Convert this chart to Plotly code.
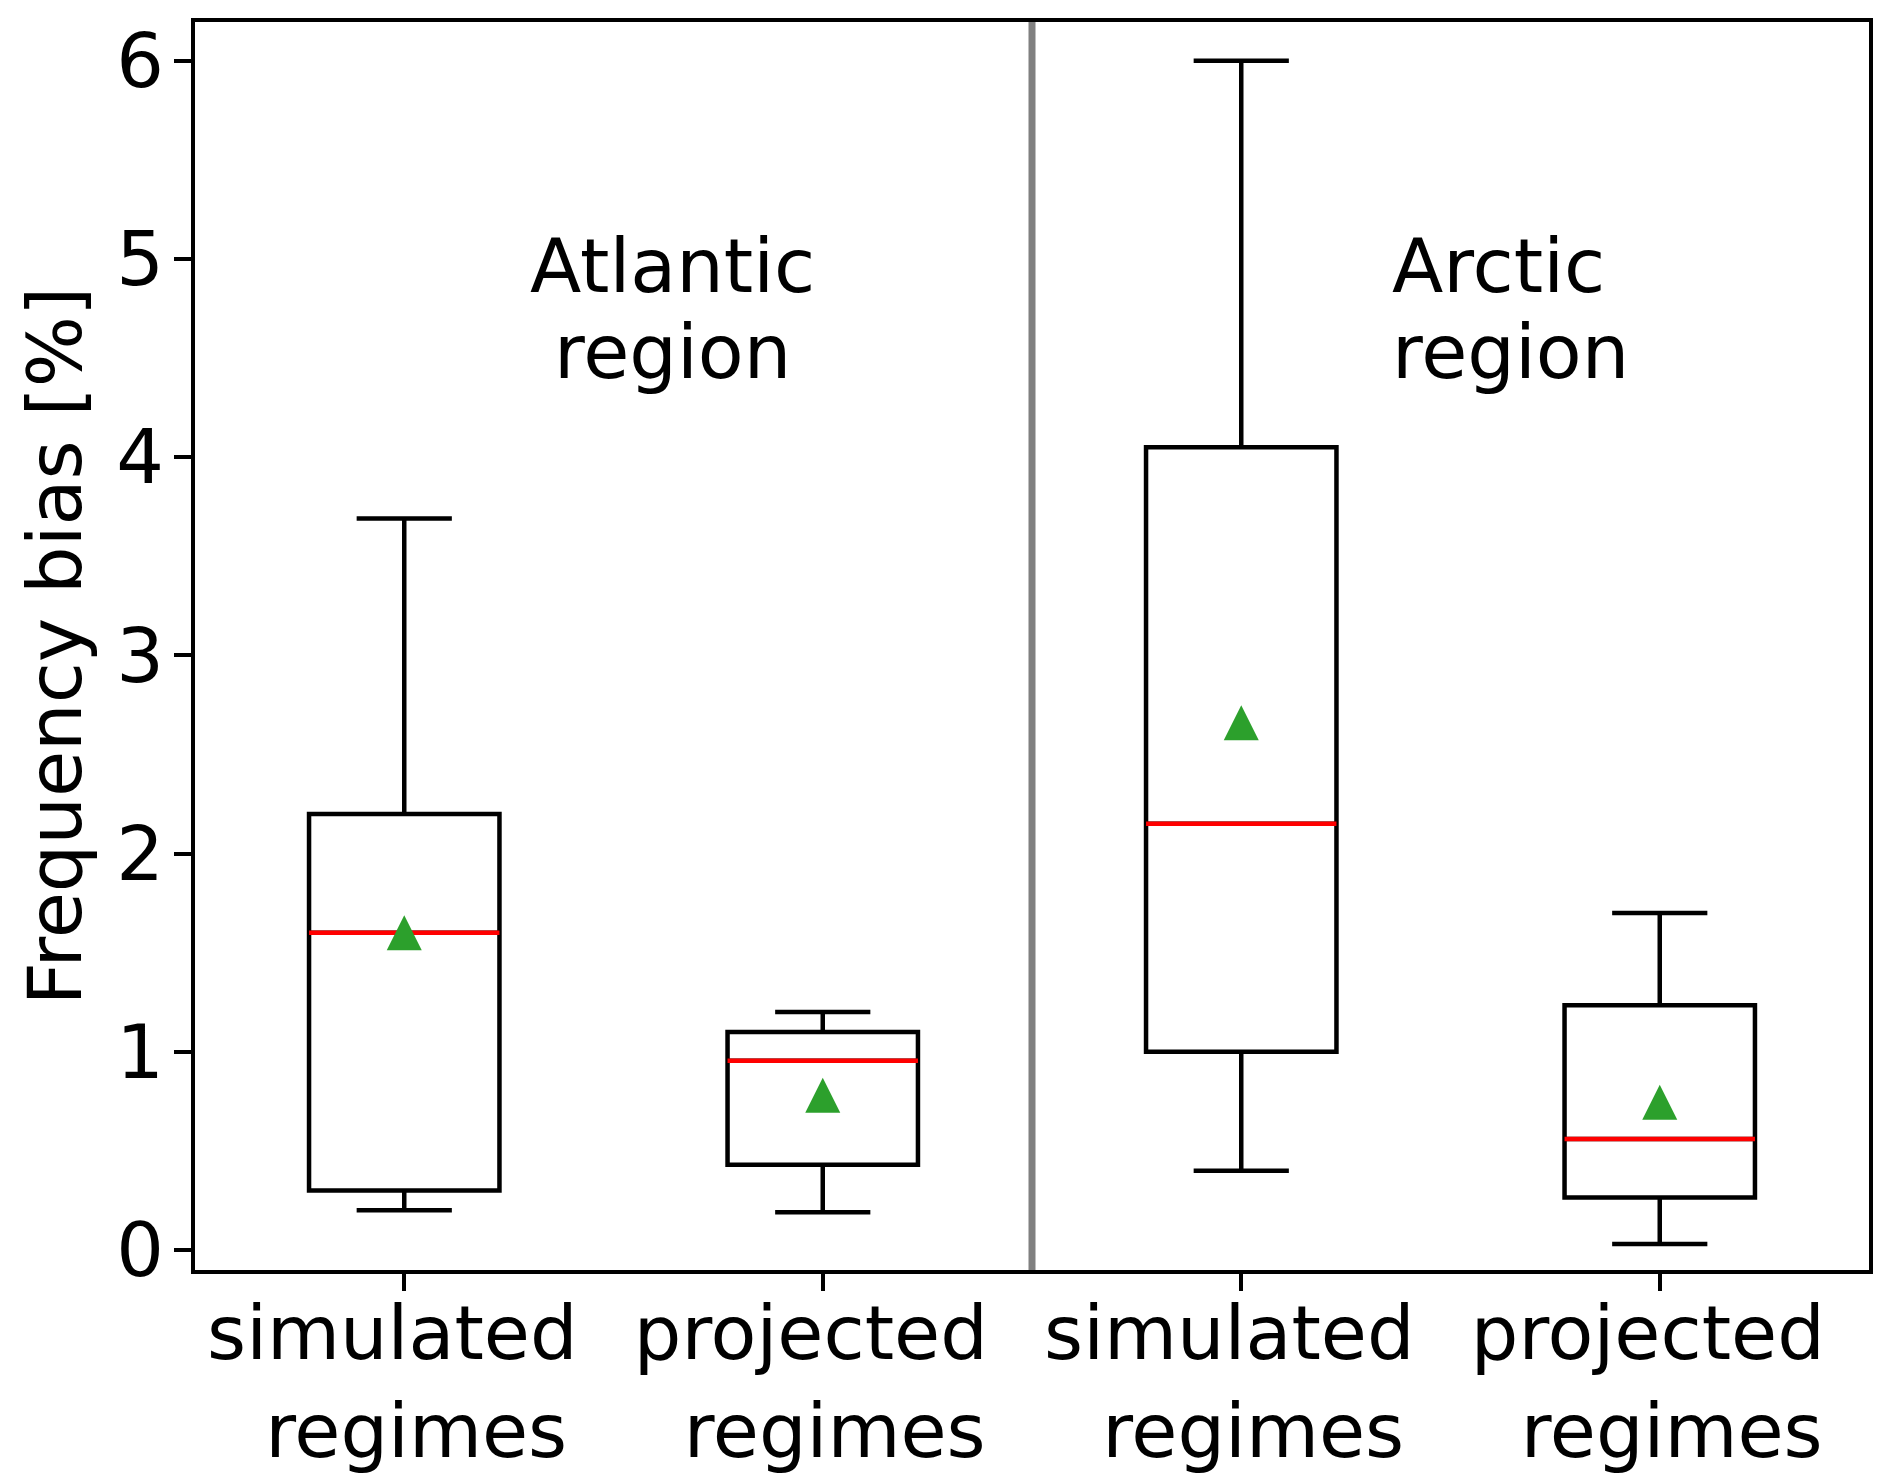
import plotly.graph_objects as go

# box statistics (frequency bias, %)
groups = ["simulated regimes", "projected regimes", "simulated regimes", "projected regimes"]
positions = [1, 2, 3, 4]
lower_whisker = [0.20, 0.19, 0.40, 0.03]
q1 = [0.30, 0.43, 1.00, 0.265]
median = [1.60, 0.955, 2.15, 0.56]
q3 = [2.20, 1.10, 4.05, 1.235]
upper_whisker = [3.69, 1.20, 6.00, 1.70]
mean = [1.60, 0.78, 2.66, 0.745]

# two-line tick labels, matplotlib-style "word \n word"
tick_text = ["\u00a0<br>\u00a0".join(g.split(" ")) for g in groups]

font = "DejaVu Sans"
box_width = 0.455

# the page body has an 8px default margin, so the figure is shrunk by that much
page_offset = 8

fig = go.Figure()

# black boxes + whiskers
fig.add_trace(go.Box(
    x=positions, q1=q1, median=median, q3=q3,
    lowerfence=lower_whisker, upperfence=upper_whisker,
    width=box_width, whiskerwidth=0.5,
    line=dict(color="black", width=4.5),
    fillcolor="rgba(0,0,0,0)",
    boxpoints=False, showlegend=False, hoverinfo="skip",
))

# red median lines (degenerate box at the median)
fig.add_trace(go.Box(
    x=positions, q1=median, median=median, q3=median,
    lowerfence=median, upperfence=median,
    width=box_width, whiskerwidth=0,
    line=dict(color="red", width=4.5),
    fillcolor="rgba(0,0,0,0)",
    boxpoints=False, showlegend=False, hoverinfo="skip",
))

# green mean triangles
fig.add_trace(go.Scatter(
    x=positions, y=mean, mode="markers",
    marker=dict(symbol="arrow-down", angle=180, standoff=17.5, size=35,
                color="#2ca02c", line=dict(width=0)),
    showlegend=False, hoverinfo="skip",
))

# divider between the two regions
divider = (positions[1] + positions[2]) / 2
fig.add_shape(type="line", xref="x", yref="paper", x0=divider, x1=divider,
              y0=0, y1=1, line=dict(color="#808080", width=7))

label_font = dict(family=font, size=75, color="black")
fig.add_annotation(x=1.64, y=4.964, text="Atlantic", showarrow=False,
                   xanchor="center", yanchor="middle", font=label_font)
fig.add_annotation(x=1.64, y=4.529, text="region", showarrow=False,
                   xanchor="center", yanchor="middle", font=label_font)
fig.add_annotation(x=3.355, y=4.964, text="Arctic", showarrow=False,
                   xanchor="left", yanchor="middle", font=label_font)
fig.add_annotation(x=3.355, y=4.529, text="region", showarrow=False,
                   xanchor="left", yanchor="middle", font=label_font)

axis_common = dict(
    showline=True, mirror=True, linecolor="black", linewidth=4,
    ticks="outside", ticklen=17, tickwidth=4, tickcolor="black",
    showgrid=False, zeroline=False,
    tickfont=dict(family=font, size=75, color="black"),
)

fig.update_layout(
    width=1892 - page_offset, height=1484 - page_offset,
    margin=dict(l=195 - page_offset, r=23, t=22 - page_offset, b=214),
    paper_bgcolor="white", plot_bgcolor="white",
    boxmode="overlay",
    font=dict(family=font, color="black"),
    xaxis=dict(range=[0.5, 4.5], tickvals=positions, ticktext=tick_text,
               ticklabelstandoff=-22, automargin=False, **axis_common),
    yaxis=dict(range=[-0.101, 6.195], tickvals=[0, 1, 2, 3, 4, 5, 6],
               ticklabelstandoff=-5,
               title=dict(text="Frequency bias [%]", standoff=11,
                          font=dict(family=font, size=75, color="black")),
               automargin=False, **axis_common),
)

fig.write_html("out.html", config={"displayModeBar": False})
